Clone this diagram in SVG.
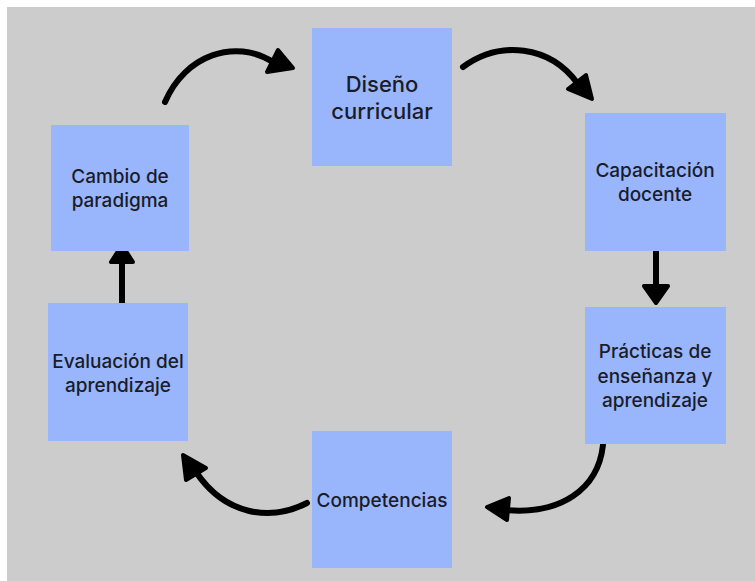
<svg xmlns="http://www.w3.org/2000/svg" width="755" height="581" viewBox="0 0 755 581">
<style>
.box{fill:#99b6fd;}
.t{font-family:Inter,"Liberation Sans",sans-serif;font-size:19px;fill:#1a1c28;text-anchor:middle;font-weight:500;}
.tb{font-size:22px;}
.ln{fill:none;stroke:#000;stroke-width:6;stroke-linecap:round;}
.hd{fill:#000;stroke:#000;stroke-width:4;stroke-linejoin:round;}
</style>
<rect x="0" y="0" width="755" height="581" fill="#ffffff"/>
<rect x="7" y="7" width="748" height="574" fill="#cccccc"/>
<g id="connectors">
<path class="ln" d="M165,102 C185,55 235,38 273,62"/>
<polygon class="hd" points="293,68 267,72 278,50"/>
<path class="ln" d="M463,67 C500,40 550,45 578,84"/>
<polygon class="hd" points="592,99 568,89 586,75"/>
<path class="ln" d="M656,243 L656,288"/>
<polygon class="hd" points="656,303 644,286 668,286"/>
<path class="ln" d="M603,445 C598,490 560,515 505,510"/>
<polygon class="hd" points="487,507 509,498 507,520"/>
<path class="ln" d="M307,503 C270,522 225,515 196,472"/>
<polygon class="hd" points="183,455 186,480 206,468"/>
<path class="ln" d="M122,305 L122,260"/>
<polygon class="hd" points="122,245 111,262 133,262"/>
</g>
<g id="diseno"><rect class="box" x="312" y="28" width="140" height="138"/>
<text class="t tb" x="382" y="92">Diseño</text><text class="t tb" x="382" y="119">curricular</text></g>
<g id="capacitacion"><rect class="box" x="585" y="113" width="141" height="138"/>
<text class="t" x="655" y="177">Capacitación</text><text class="t" x="655" y="201">docente</text></g>
<g id="practicas"><rect class="box" x="585" y="307" width="141" height="137"/>
<text class="t" x="655" y="358">Prácticas de</text><text class="t" x="655" y="382.5">enseñanza y</text><text class="t" x="655" y="407">aprendizaje</text></g>
<g id="competencias"><rect class="box" x="312" y="431" width="140" height="137"/>
<text class="t" x="382" y="507">Competencias</text></g>
<g id="evaluacion"><rect class="box" x="48" y="303" width="140" height="138"/>
<text class="t" x="118" y="368">Evaluación del</text><text class="t" x="118" y="392">aprendizaje</text></g>
<g id="cambio"><rect class="box" x="51" y="125" width="138" height="126"/>
<text class="t" x="120" y="183">Cambio de</text><text class="t" x="120" y="207">paradigma</text></g>
</svg>
